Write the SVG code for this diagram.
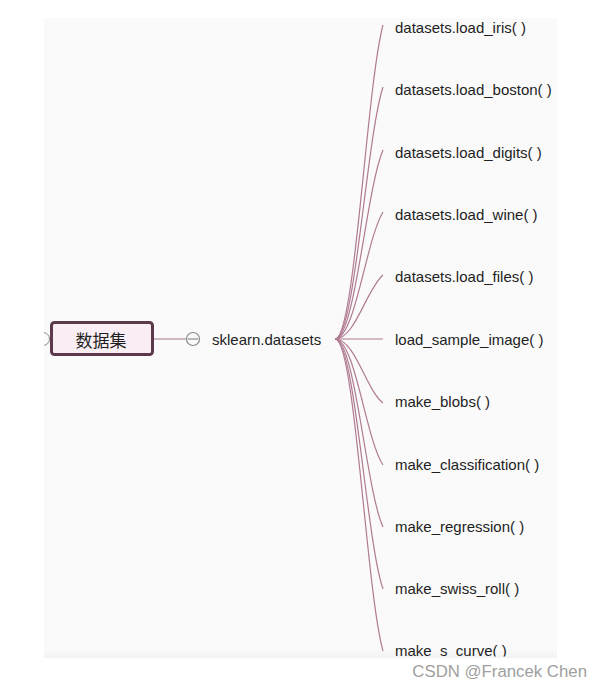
<svg xmlns="http://www.w3.org/2000/svg" width="601" height="688" viewBox="0 0 601 688">
<defs>
<style>
.lbl{font-family:"Liberation Sans",Arial,sans-serif;font-size:15px;fill:#1e1e1e;dominant-baseline:central}
.br{fill:none;stroke:#b07a92;stroke-width:1.2}
</style>
<linearGradient id="bg" x1="0" y1="0" x2="0" y2="1">
<stop offset="0.985" stop-color="#fafafa"/>
<stop offset="1" stop-color="#f3f3f3"/>
</linearGradient>
<clipPath id="clipL"><rect x="44" y="300" width="20" height="80"/></clipPath>
<clipPath id="clipB"><rect x="0" y="0" width="601" height="656.5"/></clipPath>
</defs>
<rect width="601" height="688" fill="#ffffff"/>
<rect x="44" y="18" width="513" height="640" fill="url(#bg)"/>
<g id="connectors">
<line x1="153" y1="339" x2="186" y2="339" stroke="#a07888" stroke-width="1.2"/>
<path class="br" d="M335,339 C355,339 366,90 383,25"/>
<path class="br" d="M335,339 C355,339 366,140 383,87"/>
<path class="br" d="M335,339 C355,339 366,190 383,150"/>
<path class="br" d="M335,339 C355,339 366,240 383,212"/>
<path class="br" d="M335,339 C355,339 366,290 383,275"/>
<path class="br" d="M335,339 L383,339"/>
<path class="br" d="M335,339 C355,339 366,390 383,403"/>
<path class="br" d="M335,339 C355,339 366,440 383,465"/>
<path class="br" d="M335,339 C355,339 366,490 383,527"/>
<path class="br" d="M335,339 C355,339 366,540 383,589"/>
<path class="br" d="M335,339 C355,339 366,590 383,651"/>
</g>
<g id="collapse-left" clip-path="url(#clipL)">
<circle cx="43" cy="339" r="6.5" fill="none" stroke="#8a8a8a" stroke-width="1"/>
</g>
<g id="root">
<rect x="51.5" y="322.5" width="101" height="32" rx="3" fill="#f8eef3" stroke="#5c3a4c" stroke-width="3"/>
<text x="101" y="339.5" text-anchor="middle" dominant-baseline="central" font-family="'Noto Sans CJK SC',sans-serif" font-size="17" fill="#1e1e1e">数据集</text>
</g>
<g id="collapse">
<circle cx="193" cy="339" r="6.5" fill="#fafafa" stroke="#8a8a8a" stroke-width="1.2"/>
<line x1="188" y1="339" x2="198" y2="339" stroke="#8a8a8a" stroke-width="1.2"/>
</g>
<g id="sklearn"><text class="lbl" x="212" y="339">sklearn.datasets</text></g>
<g id="n1"><text class="lbl" x="395" y="27">datasets.load_iris( )</text></g>
<g id="n2"><text class="lbl" x="395" y="89">datasets.load_boston( )</text></g>
<g id="n3"><text class="lbl" x="395" y="152">datasets.load_digits( )</text></g>
<g id="n4"><text class="lbl" x="395" y="214">datasets.load_wine( )</text></g>
<g id="n5"><text class="lbl" x="395" y="276">datasets.load_files( )</text></g>
<g id="n6"><text class="lbl" x="395" y="339">load_sample_image( )</text></g>
<g id="n7"><text class="lbl" x="395" y="401">make_blobs( )</text></g>
<g id="n8"><text class="lbl" x="395" y="464">make_classification( )</text></g>
<g id="n9"><text class="lbl" x="395" y="526">make_regression( )</text></g>
<g id="n10"><text class="lbl" x="395" y="588">make_swiss_roll( )</text></g>
<g id="n11" clip-path="url(#clipB)"><text class="lbl" x="395" y="650">make_s_curve( )</text></g>
<text x="587" y="671" text-anchor="end" dominant-baseline="central" font-family="'Liberation Sans',Arial,sans-serif" font-size="16.8" fill="#a0a0a0">CSDN @Francek Chen</text>
</svg>
